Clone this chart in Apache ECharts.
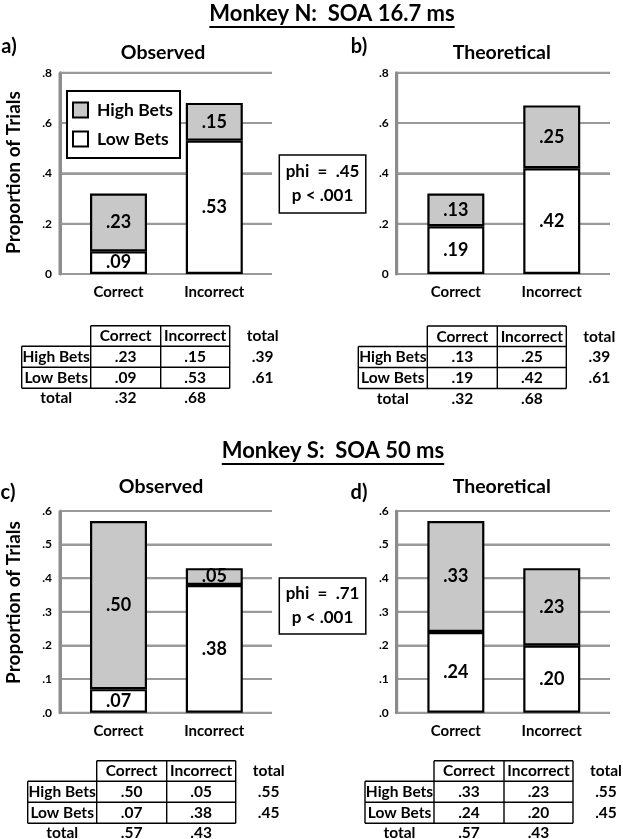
<!DOCTYPE html>
<html><head><meta charset="utf-8">
<script src="https://cdn.jsdelivr.net/npm/echarts@6/dist/echarts.min.js"></script>
<style>html,body{margin:0;padding:0;background:#fff}#c{width:623px;height:839px}</style>
</head><body><div id="c"></div>
<script>
// ---------- data ----------
const categories = ['Correct', 'Incorrect'];
const rowNames = ['High Bets', 'Low Bets'];
const obsN_high = [0.23, 0.15];
const obsN_low = [0.09, 0.53];
const theoN_high = [0.13, 0.25];
const theoN_low = [0.19, 0.42];
const obsS_high = [0.50, 0.05];
const obsS_low = [0.07, 0.38];
const theoS_high = [0.33, 0.23];
const theoS_low = [0.24, 0.20];
const rowTotalsN = ['.39', '.61'];
const colTotalsN = ['.32', '.68'];
const rowTotalsS = ['.55', '.45'];
const colTotalsS = ['.57', '.43'];
const yTicksN = ['0', '.2', '.4', '.6', '.8'];
const yTicksS = ['.0', '.1', '.2', '.3', '.4', '.5', '.6'];
const phiN = ['phi  =  .45', 'p < .001'];
const phiS = ['phi  =  .71', 'p < .001'];
const titleN = 'Monkey N:  SOA 16.7 ms';
const titleS = 'Monkey S:  SOA 50 ms';

// ---------- layout ----------
const FONT = 'Lato';
const fmt = v => v.toFixed(2).replace(/^0/, '');
const panels = [
  {high: obsN_high, low: obsN_low, ticks: yTicksN, max: 0.8, step: 0.2,
   frame: {left: 60, top: 72.7, width: 212, height: 201.3}, bars: {left: 70.6, width: 191.6}},
  {high: theoN_high, low: theoN_low, ticks: yTicksN, max: 0.8, step: 0.2,
   frame: {left: 396.7, top: 72.7, width: 213.3, height: 201.3}, bars: {left: 407.9, width: 191.8}},
  {high: obsS_high, low: obsS_low, ticks: yTicksS, max: 0.6, step: 0.1,
   frame: {left: 60, top: 511, width: 212, height: 201.7}, bars: {left: 70.6, width: 191.6}},
  {high: theoS_high, low: theoS_low, ticks: yTicksS, max: 0.6, step: 0.1,
   frame: {left: 396.7, top: 511, width: 213.3, height: 201.7}, bars: {left: 407.9, width: 191.8}}
];
const GRID_COLOR = '#9a9a9a', AXIS_COLOR = '#8c8c8c';

const grid = [], xAxis = [], yAxis = [], series = [];
panels.forEach((p, i) => {
  const f = p.frame;
  grid.push({left: f.left, top: f.top, width: f.width, height: f.height});
  grid.push({left: p.bars.left, top: f.top, width: p.bars.width, height: f.height});
  xAxis.push({gridIndex: 2*i, type: 'category', data: categories,
    axisLine: {show: false}, axisTick: {show: false}, axisLabel: {show: false}});
  xAxis.push({gridIndex: 2*i+1, type: 'category', data: categories,
    axisLine: {show: false}, axisTick: {show: false},
    axisLabel: {color: '#000', fontFamily: FONT, fontWeight: 'bold', fontSize: 15, margin: 11}});
  yAxis.push({gridIndex: 2*i, type: 'value', min: 0, max: p.max, interval: p.step,
    axisLine: {show: true, lineStyle: {color: AXIS_COLOR, width: 3}},
    axisTick: {show: false},
    axisLabel: {color: '#000', fontFamily: FONT, fontWeight: 'bold', fontSize: 12, margin: 8,
      formatter: v => p.ticks[Math.round(v / p.step)]},
    splitLine: {show: true, lineStyle: {color: GRID_COLOR, width: 2}}});
  yAxis.push({gridIndex: 2*i+1, type: 'value', min: 0, max: p.max, interval: p.step, show: false});
  const lbl = {show: true, position: 'inside', formatter: q => fmt(q.value), color: '#000',
    fontFamily: FONT, fontWeight: 'bold', fontSize: 18};
  series.push({type: 'bar', name: 'Low Bets', xAxisIndex: 2*i+1, yAxisIndex: 2*i+1, stack: 's' + i,
    data: p.low, barWidth: 57, itemStyle: {color: '#ffffff', borderColor: '#000', borderWidth: 2.2}, label: lbl});
  series.push({type: 'bar', name: 'High Bets', xAxisIndex: 2*i+1, yAxisIndex: 2*i+1, stack: 's' + i,
    data: p.high, barWidth: 57, itemStyle: {color: '#c8c8c8', borderColor: '#000', borderWidth: 2.2}, label: lbl});
});

// ---------- graphic text ----------
const graphic = [];
function txt(x, y, s, size, weight, extra) {
  graphic.push(Object.assign({type: 'text', x: x, y: y, z: 10,
    style: {text: s, fontFamily: FONT, fontSize: size, fontWeight: weight, fill: '#000',
      align: 'center', verticalAlign: 'middle'}}, extra || {}));
}
function mainTitle(cx, cy, uy, s) {
  txt(cx, cy, s, 22, 'bold');
  const w = echarts.format.getTextRect
    ? echarts.format.getTextRect(s, 'bold 22px ' + FONT).width
    : s.length * 10.4;
  graphic.push({type: 'line', z: 10, shape: {x1: cx - w/2, y1: uy, x2: cx + w/2, y2: uy},
    style: {stroke: '#000', lineWidth: 2}});
}
mainTitle(332, 14, 27, titleN);
mainTitle(333, 451, 464, titleS);
txt(163, 52.7, 'Observed', 19.5, 'bold');
txt(501.7, 52.7, 'Theoretical', 19.5, 'bold');
txt(161, 486.7, 'Observed', 19.5, 'bold');
txt(501.7, 486.7, 'Theoretical', 19.5, 'bold');
txt(9, 47, 'a)', 20, 'bold');
txt(359, 47, 'b)', 20, 'bold');
txt(8, 493, 'c)', 20, 'bold');
txt(359, 493, 'd)', 20, 'bold');
txt(14, 172.5, 'Proportion of Trials', 19, 'bold', {rotation: Math.PI / 2});
txt(13.5, 602.5, 'Proportion of Trials', 19, 'bold', {rotation: Math.PI / 2});

function phiBox(x, y, w, h, lines) {
  graphic.push({type: 'rect', z: 9, shape: {x: x, y: y, width: w, height: h},
    style: {fill: '#fff', stroke: '#000', lineWidth: 1.5}});
  txt(x + w/2, y + h/2 - 12, lines[0], 17, 'bold');
  txt(x + w/2, y + h/2 + 12, lines[1], 17, 'bold');
}
phiBox(279.3, 155, 86.5, 58, phiN);
phiBox(279.3, 578, 86.5, 56, phiS);

// ---------- tables ----------
function table(x0, y0, high, low, rowTotals, colTotals) {
  const rh = 69, c1 = 70, c2 = 69, hh = 20.5, rr = 21;
  const xa = x0 + rh, xb = xa + c1, xc = xb + c2;
  const y1 = y0 + hh, y2 = y1 + rr, y3 = y2 + rr;
  const L = (a, b, c, d) => graphic.push({type: 'line', z: 10, shape: {x1: a, y1: b, x2: c, y2: d},
    style: {stroke: '#000', lineWidth: 1.4}});
  L(xa, y0, xc, y0); L(x0, y1, xc, y1); L(x0, y2, xc, y2); L(x0, y3, xc, y3);
  L(x0, y1, x0, y3); L(xa, y0, xa, y3); L(xb, y0, xb, y3); L(xc, y0, xc, y3);
  const fs = 15.5;
  const cx1 = xa + c1/2, cx2 = xb + c2/2, cxr = x0 + rh/2, cxt = xc + 33;
  txt(cx1, y0 + hh/2 + 0.5, categories[0], fs, 'bold');
  txt(cx2, y0 + hh/2 + 0.5, categories[1], fs, 'bold');
  txt(cxt, y0 + hh/2 + 0.5, 'total', fs, 'bold');
  [high, low].forEach((r, k) => {
    const yy = y1 + rr * k + rr/2;
    txt(cxr, yy, rowNames[k], fs, 'bold');
    txt(cx1, yy, fmt(r[0]), fs, 'bold');
    txt(cx2, yy, fmt(r[1]), fs, 'bold');
    txt(cxt, yy, rowTotals[k], fs, 'bold');
  });
  const yt = y0 + 72.5;
  txt(cxr, yt, 'total', fs, 'bold');
  txt(cx1, yt, colTotals[0], fs, 'bold');
  txt(cx2, yt, colTotals[1], fs, 'bold');
}
table(21.7, 325.7, obsN_high, obsN_low, rowTotalsN, colTotalsN);
table(358.3, 326, theoN_high, theoN_low, rowTotalsN, colTotalsN);
table(27.7, 760.7, obsS_high, obsS_low, rowTotalsS, colTotalsS);
table(365, 760.7, theoS_high, theoS_low, rowTotalsS, colTotalsS);

const chart = echarts.init(document.getElementById('c'), null, {renderer: 'canvas'});
const baseOption = {
  animation: false,
  backgroundColor: '#fff',
  grid: grid, xAxis: xAxis, yAxis: yAxis, series: series,
  legend: {show: true, data: ['High Bets', 'Low Bets'], orient: 'vertical', left: 67, top: 91,
    padding: [10, 7, 10, 5], itemWidth: 15, itemHeight: 15, itemGap: 11, icon: 'rect',
    borderColor: '#000', borderWidth: 2, backgroundColor: '#fff', selectedMode: false,
    textStyle: {fontFamily: FONT, fontWeight: 'bold', fontSize: 17.5, color: '#000', padding: [0, 0, 0, 4]}},
  graphic: graphic
};
chart.setOption(baseOption);

// Gridlines and value-axis lines, placed through the library's own value scale
// (drawn beneath the bars; they coincide with the axis' own split lines).
const frameLines = [];
panels.forEach((p, i) => {
  const f = p.frame;
  const n = Math.round(p.max / p.step);
  for (let k = 0; k <= n; k++) {
    const y = chart.convertToPixel({yAxisIndex: 2*i}, k * p.step);
    if (!isFinite(y)) continue;
    frameLines.push({type: 'line', z: 1, silent: true,
      shape: {x1: f.left, y1: y, x2: f.left + f.width, y2: y},
      style: {stroke: GRID_COLOR, lineWidth: 2}});
  }
  const y0 = chart.convertToPixel({yAxisIndex: 2*i}, 0);
  const yTop = chart.convertToPixel({yAxisIndex: 2*i}, p.max);
  if (isFinite(y0) && isFinite(yTop)) {
    frameLines.push({type: 'line', z: 1, silent: true,
      shape: {x1: f.left, y1: y0 + 1, x2: f.left, y2: yTop},
      style: {stroke: AXIS_COLOR, lineWidth: 3}});
  }
});
chart.setOption({graphic: graphic.concat(frameLines)});
</script></body></html>
